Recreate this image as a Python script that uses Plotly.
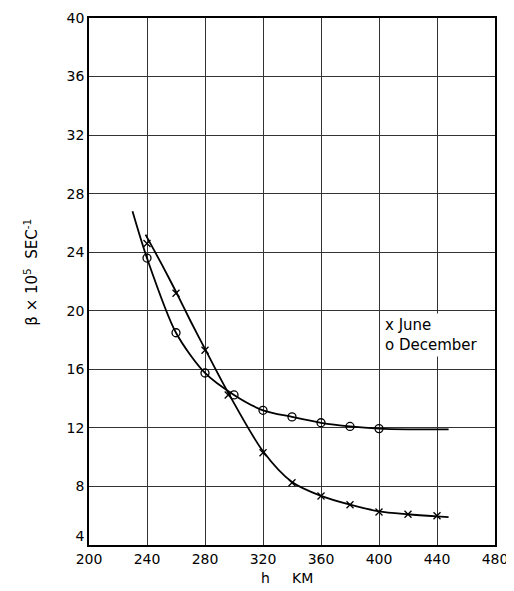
import plotly.graph_objects as go

# Faired curves
june_curve_h = [239, 250, 260, 270, 280, 296, 320, 340, 360, 380, 400, 420, 440, 448]
june_curve_b = [25.2, 23.2, 21.3, 19.3, 17.4, 14.4, 10.4, 8.3, 7.35, 6.75, 6.3, 6.1, 5.95, 5.9]
dec_curve_h = [230, 240, 260, 280, 300, 320, 340, 360, 380, 400, 420, 448]
dec_curve_b = [26.8, 23.6, 18.5, 15.75, 14.25, 13.2, 12.75, 12.35, 12.1, 11.95, 11.9, 11.9]

# Observed points
june_h = [240, 260, 280, 296, 320, 340, 360, 380, 400, 420, 440]
june_b = [24.6, 21.2, 17.3, 14.25, 10.3, 8.25, 7.35, 6.75, 6.25, 6.1, 6.0]
dec_h = [240, 260, 280, 300, 320, 340, 360, 380, 400]
dec_b = [23.6, 18.5, 15.75, 14.25, 13.2, 12.75, 12.35, 12.1, 11.95]

x_ticks = [200, 240, 280, 320, 360, 400, 440, 480]
y_ticks = [4, 8, 12, 16, 20, 24, 28, 32, 36, 40]
y_ticktext = ["4<br> "] + [str(v) for v in y_ticks[1:]]

FONT = "DejaVu Sans"

fig = go.Figure()
fig.add_trace(go.Scatter(x=june_curve_h, y=june_curve_b, mode="lines",
                         line=dict(color="black", width=1.8, shape="spline", smoothing=0.8),
                         showlegend=False, hoverinfo="skip"))
fig.add_trace(go.Scatter(x=dec_curve_h, y=dec_curve_b, mode="lines",
                         line=dict(color="black", width=1.8, shape="spline", smoothing=0.8),
                         showlegend=False, hoverinfo="skip"))
fig.add_trace(go.Scatter(x=june_h, y=june_b, mode="markers", name="June",
                         marker=dict(symbol="x-thin-open", size=7, color="black",
                                     line=dict(color="black", width=1.3)),
                         showlegend=False))
fig.add_trace(go.Scatter(x=dec_h, y=dec_b, mode="markers", name="December",
                         marker=dict(symbol="circle-open", size=8, color="black",
                                     line=dict(color="black", width=1.3)),
                         showlegend=False))

fig.add_annotation(x=0.722, y=0.44, xref="paper", yref="paper",
                   xanchor="left", yanchor="top", align="left",
                   text="x June<br>o December", showarrow=False,
                   bgcolor="white", borderpad=2,
                   font=dict(family=FONT, size=15, color="black"))

# y-axis title placed as rotated annotation
fig.add_annotation(x=-0.145, y=0.517, xref="paper", yref="paper",
                   xanchor="center", yanchor="middle", textangle=-90,
                   text="β × 10<sup>5</sup>  SEC<sup>-1</sup>", showarrow=False,
                   font=dict(family=FONT, size=15, color="black"))

# x-axis title placed as annotation
fig.add_annotation(x=0.488, y=-0.063, xref="paper", yref="paper",
                   xanchor="center", yanchor="middle",
                   text="h     KM", showarrow=False,
                   font=dict(family=FONT, size=14, color="black"))

fig.update_layout(
    width=506, height=583,
    margin=dict(l=81, r=19, t=10, b=46),
    paper_bgcolor="white", plot_bgcolor="white",
    font=dict(family=FONT, size=14, color="black"),
    xaxis=dict(range=[200, 480], tickvals=x_ticks, ticktext=[str(v) for v in x_ticks],
               showgrid=True, gridcolor="#333333", gridwidth=1,
               showline=True, linecolor="black", linewidth=1.5, mirror=True,
               ticks="", zeroline=False, automargin=False),
    yaxis=dict(range=[4, 40], tickvals=y_ticks, ticktext=y_ticktext,
               showgrid=True, gridcolor="#333333", gridwidth=1,
               showline=True, linecolor="black", linewidth=1.5, mirror=True,
               ticks="", zeroline=False, automargin=False),
)

fig.write_html("out.html")
